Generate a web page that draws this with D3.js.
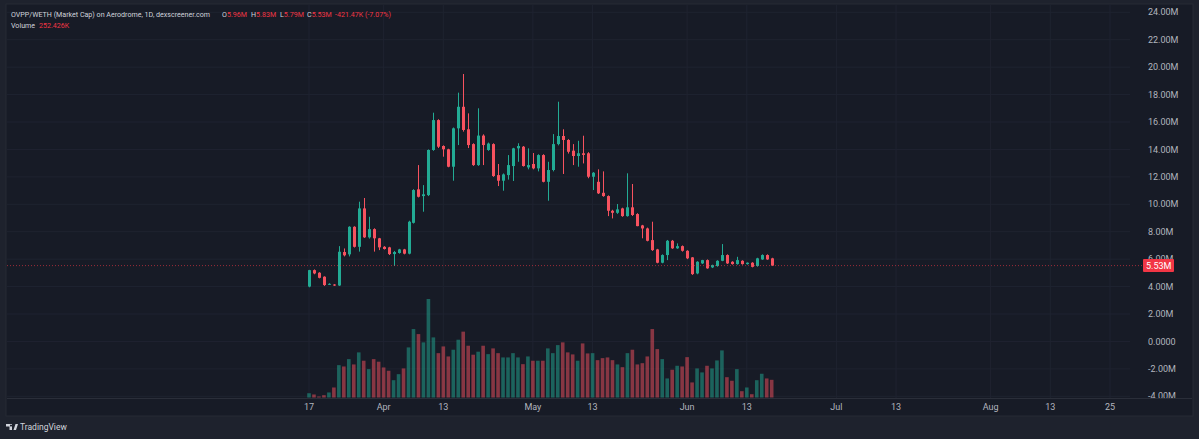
<!DOCTYPE html>
<html>
<head>
<meta charset="utf-8">
<script src="https://cdn.jsdelivr.net/npm/d3@7"></script>
<style>
  body { margin: 0; background: #1e222d; }
  svg { display: block; font-family: Roboto, 'Noto Sans', sans-serif; }
</style>
</head>
<body>
<svg id="chart" width="1199" height="439"></svg>
<script>
// daily candles from 17 Mar, values in millions (market cap)
const firstDay = Date.UTC(2024, 2, 17)
const opens = [4.00, 5.20, 5.01, 4.72, 4.16, 4.15, 4.08, 6.52, 6.35, 8.36,
  6.90, 9.70, 7.59, 8.19, 7.52, 6.90, 6.86, 6.37, 6.45, 6.71,
  6.40, 8.65, 11.09, 10.60, 10.67, 13.96, 16.14, 14.25, 14.01, 12.74,
  15.54, 17.11, 15.47, 14.39, 12.86, 15.01, 13.96, 14.39, 12.13, 11.72,
  12.13, 12.79, 14.08, 14.20, 12.69, 12.94, 12.62, 13.59, 11.64, 12.50,
  14.39, 14.98, 14.69, 13.91, 13.52, 13.72, 13.72, 12.01, 11.64, 10.84,
  10.60, 9.53, 9.38, 9.70, 9.14, 9.78, 9.29, 8.46, 8.24, 7.39,
  6.71, 5.74, 6.30, 7.34, 6.79, 6.95, 6.61, 6.13, 4.96, 5.69,
  5.93, 5.40, 5.50, 5.88, 6.30, 5.81, 5.64, 5.88, 5.64, 5.74,
  5.50, 5.98, 6.30, 6.06]
const highs = [5.22, 5.25, 5.05, 4.75, 4.24, 4.18, 6.95, 6.78, 8.40, 8.40,
  10.19, 10.46, 9.09, 8.25, 7.55, 6.95, 6.90, 6.60, 6.75, 6.75,
  8.80, 11.10, 12.86, 11.40, 14.00, 16.68, 16.20, 14.30, 14.05, 15.60,
  18.14, 19.50, 16.63, 14.45, 17.00, 15.10, 14.50, 14.45, 12.94, 12.25,
  13.59, 14.12, 14.45, 14.25, 14.08, 13.74, 13.65, 13.65, 13.10, 15.12,
  17.48, 15.47, 14.75, 14.39, 14.63, 15.00, 13.80, 12.35, 12.55, 12.40,
  10.65, 9.60, 10.02, 9.75, 12.26, 11.48, 9.35, 8.50, 8.30, 8.73,
  6.75, 6.35, 7.40, 7.40, 7.15, 7.00, 6.65, 6.15, 5.85, 5.95,
  5.98, 5.60, 5.92, 7.10, 6.35, 5.85, 6.17, 5.92, 5.76, 5.78,
  6.10, 6.35, 6.35, 6.10]
const lows = [3.95, 4.90, 4.60, 4.05, 4.12, 4.05, 4.05, 6.20, 6.20, 6.85,
  6.55, 7.55, 7.50, 6.55, 6.66, 6.70, 6.30, 5.50, 6.40, 6.35,
  6.35, 8.60, 10.50, 9.46, 10.60, 13.90, 14.10, 13.47, 12.70, 11.72,
  14.32, 15.30, 14.10, 12.80, 12.80, 12.86, 13.90, 12.00, 11.33, 10.99,
  11.80, 11.70, 13.10, 12.75, 12.55, 12.55, 12.40, 11.60, 10.26, 12.40,
  14.30, 12.21, 13.70, 12.86, 12.74, 12.98, 11.90, 11.04, 10.75, 10.55,
  9.14, 8.97, 9.30, 9.09, 9.10, 9.15, 8.40, 7.52, 7.30, 6.60,
  5.70, 5.70, 5.93, 6.75, 6.75, 6.55, 6.00, 4.85, 4.90, 5.65,
  5.30, 5.35, 5.45, 5.85, 5.65, 5.60, 5.60, 5.60, 5.60, 5.40,
  5.45, 5.95, 5.95, 5.50]
const closes = [5.20, 4.96, 4.64, 4.11, 4.20, 4.08, 6.54, 6.28, 8.36, 6.90,
  9.70, 7.59, 8.19, 7.52, 6.86, 6.74, 6.37, 6.52, 6.71, 6.40,
  8.73, 11.04, 10.55, 10.73, 13.96, 16.14, 14.20, 14.01, 12.74, 15.54,
  17.11, 15.42, 14.32, 12.86, 15.01, 14.32, 14.43, 12.06, 11.72, 12.18,
  12.86, 14.08, 14.25, 12.79, 12.86, 12.62, 13.59, 11.64, 12.50, 14.39,
  14.98, 14.69, 13.83, 13.52, 13.72, 13.60, 12.01, 12.30, 10.80, 10.60,
  9.53, 9.38, 9.63, 9.14, 9.78, 9.22, 8.41, 8.24, 7.34, 6.66,
  5.74, 6.30, 7.34, 6.79, 6.95, 6.61, 6.06, 4.91, 5.81, 5.93,
  5.33, 5.57, 5.88, 6.30, 5.69, 5.64, 5.93, 5.64, 5.74, 5.44,
  6.06, 6.30, 5.98, 5.53]
// volume in thousands
const volumes = [61, 43, 14, 33, 72, 143, 462, 443, 548, 472,
  644, 525, 405, 548, 511, 429, 382, 247, 333, 415,
  715, 977, 905, 787, 1406, 858, 633, 729, 586, 682,
  825, 940, 739, 611, 654, 739, 619, 701, 633, 572,
  572, 633, 572, 476, 586, 525, 525, 525, 701, 633,
  748, 787, 644, 615, 525, 772, 629, 633, 533, 562,
  572, 533, 472, 433, 633, 682, 472, 490, 586, 977,
  691, 548, 272, 396, 453, 443, 576, 215, 415, 358,
  453, 415, 529, 672, 290, 239, 405, 90, 143, 47,
  247, 339, 272, 252.426]
const priceTicks = d3.range(-4, 25, 2)
const timeTickDates = ['2024-03-17', '2024-04-01', '2024-04-13', '2024-05-01', '2024-05-13', '2024-06-01',
  '2024-06-13', '2024-07-01', '2024-07-13', '2024-08-01', '2024-08-13', '2024-08-25']
const timeTickLabels = ['17', 'Apr', '13', 'May', '13', 'Jun', '13', 'Jul', '13', 'Aug', '13', '25']
const lastPrice = 5.53
const legendKeys = ['O', 'H', 'L', 'C']
const legendValues = ['5.96M', '5.83M', '5.79M', '5.53M']

const up = '#22ab94'
const down = '#f7525f'
const textColor = '#b2b5be'
const gridColor = '#1f2330'

const candles = opens.map((o, i) => ({
  date: new Date(firstDay + i * 864e5),
  o, h: highs[i], l: lows[i], c: closes[i], v: volumes[i]
}))

const svg = d3.select('#chart')

// panel
svg.append('rect').attr('x', 6).attr('y', 4).attr('width', 1187).attr('height', 412)
  .attr('fill', '#171b26').attr('stroke', '#262a35')

const x = d3.scaleUtc().domain([new Date('2024-03-17'), new Date('2024-08-25')]).range([309, 1110])
const y = d3.scaleLinear().domain([-4, 24]).range([396.3, 12.3])
const yVol = d3.scaleLinear().domain([0, d3.max(volumes)]).range([397.5, 299])

const grid = svg.append('g')
grid.selectAll('line.h').data(priceTicks).join('line').attr('class', 'h')
  .attr('x1', 7).attr('x2', 1130).attr('y1', d => y(d)).attr('y2', d => y(d))
  .attr('stroke', gridColor)
grid.selectAll('line.v').data(timeTickDates).join('line').attr('class', 'v')
  .attr('x1', d => x(new Date(d))).attr('x2', d => x(new Date(d))).attr('y1', 5).attr('y2', 398)
  .attr('stroke', gridColor)

// volume
svg.append('g').selectAll('rect').data(candles).join('rect')
  .attr('x', d => x(d.date) - 1.8).attr('width', 3.6)
  .attr('y', d => yVol(d.v)).attr('height', d => yVol(0) - yVol(d.v))
  .attr('fill', d => d.c >= d.o ? up : down).attr('opacity', 0.5)

// candles
const cg = svg.append('g').selectAll('g').data(candles).join('g')
cg.append('line')
  .attr('x1', d => Math.round(x(d.date)) + 0.5).attr('x2', d => Math.round(x(d.date)) + 0.5)
  .attr('y1', d => y(d.h)).attr('y2', d => y(d.l))
  .attr('stroke', d => d.c >= d.o ? up : down)
cg.append('rect')
  .attr('x', d => Math.round(x(d.date)) - 1).attr('width', 3)
  .attr('y', d => y(Math.max(d.o, d.c)))
  .attr('height', d => Math.max(1, Math.abs(y(d.o) - y(d.c))))
  .attr('fill', d => d.c >= d.o ? up : down)

// last price line
svg.append('line').attr('x1', 7).attr('x2', 1142).attr('y1', y(lastPrice)).attr('y2', y(lastPrice))
  .attr('stroke', '#f23645').attr('stroke-opacity', 0.6).attr('stroke-dasharray', '1,2')

// price axis
svg.append('g').selectAll('text').data(priceTicks).join('text')
  .attr('x', 1148).attr('y', d => y(d)).attr('dy', '0.35em')
  .attr('fill', textColor).attr('font-size', 9)
  .text(d => d === 0 ? '0.0000' : d.toFixed(2) + 'M')

svg.append('rect').attr('x', 1143).attr('y', y(lastPrice) - 6.5).attr('width', 31).attr('height', 13)
  .attr('rx', 1).attr('fill', '#f23645')
svg.append('text').attr('x', 1146).attr('y', y(lastPrice)).attr('dy', '0.35em')
  .attr('fill', '#fff').attr('font-size', 9).text(lastPrice.toFixed(2) + 'M')

// time axis
svg.append('line').attr('x1', 7).attr('x2', 1192).attr('y1', 398.5).attr('y2', 398.5).attr('stroke', '#2a2e39')
svg.append('g').selectAll('text').data(timeTickDates).join('text')
  .attr('x', d => x(new Date(d))).attr('y', 407).attr('dy', '0.35em')
  .attr('text-anchor', 'middle').attr('fill', textColor).attr('font-size', 9)
  .text((d, i) => timeTickLabels[i])

// legend
const legend = svg.append('g').attr('font-size', 7.1)
legend.append('text').attr('x', 11).attr('y', 15).attr('dy', '0.35em')
  .attr('fill', '#d1d4dc').text('OVPP/WETH (Market Cap) on Aerodrome, 1D, dexscreener.com')
const legendX = [222, 251, 280, 307]
legendKeys.forEach((k, i) => {
  const t = legend.append('text').attr('x', legendX[i]).attr('y', 15).attr('dy', '0.35em')
  t.append('tspan').attr('fill', '#d1d4dc').text(k)
  t.append('tspan').attr('fill', '#f23645').text(legendValues[i])
})
legend.append('text').attr('x', 335).attr('y', 15).attr('dy', '0.35em')
  .attr('fill', '#f23645').text('-421.47K (-7.07%)')
legend.append('text').attr('x', 11).attr('y', 25.5).attr('dy', '0.35em')
  .attr('fill', '#d1d4dc').text('Volume')
legend.append('text').attr('x', 39).attr('y', 25.5).attr('dy', '0.35em')
  .attr('fill', '#f23645').text('252.426K')

// footer logo
const logo = svg.append('g').attr('transform', 'translate(6,424)')
logo.append('path').attr('d', 'M0 0h6v6h-2.5v-3.5h-3.5z M7.5 6l2-6h2.5l-2 6z M5 0.5a1 1 0 1 0 0.01 0')
  .attr('fill', '#d1d4dc')
logo.append('text').attr('x', 14).attr('y', 3.5).attr('dy', '0.35em').attr('font-size', 8.5)
  .attr('fill', '#d1d4dc').text('TradingView')
</script>
</body>
</html>
